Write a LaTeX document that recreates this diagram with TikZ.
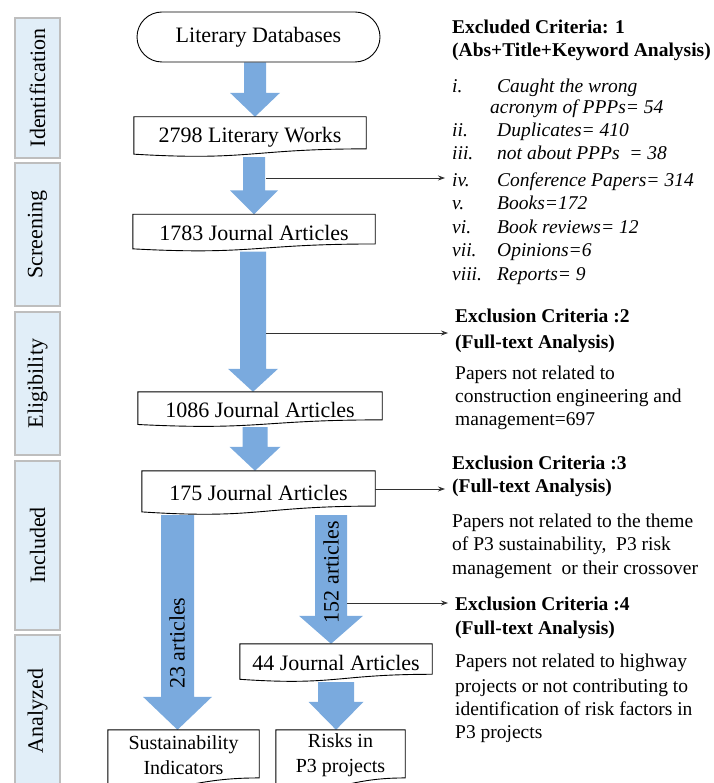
\documentclass[tikz,border=0pt]{standalone}
\usepackage{fontspec}
\setmainfont{Liberation Serif}
\usetikzlibrary{shapes.misc,calc,arrows.meta}
\pgfdeclarelayer{bg}
\pgfdeclarelayer{boxes}
\pgfsetlayers{bg,boxes,main}
\definecolor{arrowblue}{RGB}{122,170,222}
\definecolor{sidefill}{RGB}{225,238,248}
\definecolor{sidedraw}{RGB}{190,190,190}
\definecolor{linegray}{RGB}{50,50,50}
% document shape: #1 node name, #2 total height
\newcommand\docshape[2]{%
  \draw[docline] let \p1=(#1.north west), \p2=(#1.north east) in
    (\p1) -- (\p2) -- ({\x2},{\y1-0.802*#2pt})
    .. controls ({(\x1+\x2)/2},{\y1-0.802*#2pt}) and ({(\x1+\x2)/2},{\y1-1.1075*#2pt}) ..
    ({\x1},{\y1-0.934*#2pt}) -- cycle;}
% block arrow: #1 x coordinate, #2 from node, #3 to node, #4 shaft half, #5 head half, #6 head length
\newcommand\blockarrow[6]{%
  \fill[arrowblue] let \p1=(#1 |- #2.south), \p2=(#1 |- #3.north) in
    ({\x1-#4pt},\y1) -- ({\x1+#4pt},\y1) -- ({\x1+#4pt},{\y2+#6pt}) -- ({\x1+#5pt},{\y2+#6pt})
    -- (\x1,\y2) -- ({\x1-#5pt},{\y2+#6pt}) -- ({\x1-#4pt},{\y2+#6pt}) -- cycle;}
\begin{document}
\begin{tikzpicture}[x=1pt,y=-1pt,
  docline/.style={draw=black,fill=white,line width=0.9pt},
  mainbox/.style={draw=none,inner sep=0pt,align=center,font=\fontsize{22}{26}\selectfont},
  smallbox/.style={draw=none,inner sep=0pt,align=center,font=\fontsize{20}{25}\selectfont},
  side/.style={draw=sidedraw,fill=sidefill,line width=1.2pt,inner sep=0pt,rotate=90,font=\fontsize{22}{26}\selectfont},
  alabel/.style={inner sep=0pt,rotate=90,font=\fontsize{22}{26}\selectfont},
  rtxt/.style={anchor=base west,inner sep=0pt,font=\fontsize{19.5}{23}\selectfont},
  rbold/.style={rtxt,font=\fontsize{19.5}{23}\selectfont\bfseries},
  itm/.style={rtxt,font=\fontsize{19.5}{23}\selectfont\itshape},
  thinarr/.style={draw=linegray,line width=0.8pt,-{Stealth[length=7pt,width=5pt]},shorten >=7pt}]
\useasboundingbox (0,0) rectangle (713,783);

% side phase boxes
\node[side,minimum width=140pt,minimum height=45pt] (sid) at (37.5,88) {Identification};
\node[side,minimum width=143pt,minimum height=45pt] (ssc) at (37.5,234.5) {Screening};
\node[side,minimum width=143pt,minimum height=45pt] (sel) at (37.5,383.5) {Eligibility};
\node[side,minimum width=169pt,minimum height=45pt] (sin) at (37.5,545.5) {Included};
\node[side,minimum width=152pt,minimum height=45pt] (san) at (37.5,711) {Analyzed};

% main flow nodes
\node[draw,rounded rectangle,line width=0.9pt,inner sep=0pt,minimum width=243pt,minimum height=50pt,font=\fontsize{22}{26}\selectfont] (db) at (258.5,37) {Literary Databases};
\node[mainbox,minimum width=232pt,minimum height=40pt] (w2798) at (250,137) {2798 Literary Works};
\node[mainbox,minimum width=242pt,minimum height=37pt] (j1783) at (254,233) {1783 Journal Articles};
\node[mainbox,minimum width=244pt,minimum height=35pt] (j1086) at (260,409.5) {1086 Journal Articles};
\node[mainbox,minimum width=233pt,minimum height=44pt] (j175) at (258.5,493) {175 Journal Articles};
\node[mainbox,minimum width=192pt,minimum height=38pt] (j44) at (336,663) {44 Journal Articles};
\node[smallbox,minimum width=151pt,minimum height=50pt] (sust) at (183.5,755) {Sustainability\\Indicators};
\node[smallbox,minimum width=129pt,minimum height=50pt] (risks) at (340.5,755) {Risks in\\P3 projects};

% arrow columns
\coordinate (ax1) at (255,0);
\coordinate (ax2) at (254,0);
\coordinate (ax3) at (253,0);
\coordinate (ax4) at (255,0);
\coordinate (ax5) at (177.5,0);
\coordinate (ax6) at (331,0);
\coordinate (ax7) at (336,0);

\begin{pgfonlayer}{bg}
\blockarrow{ax1}{db}{w2798}{11}{25}{24}
\blockarrow{ax2}{w2798}{j1783}{11}{24}{24}
\blockarrow{ax3}{j1783}{j1086}{13}{25}{23}
\blockarrow{ax4}{j1086}{j175}{12.5}{25.5}{24}
\blockarrow{ax5}{j175}{sust}{16.5}{34.5}{33}
\blockarrow{ax6}{j175}{j44}{16}{32}{28}
\blockarrow{ax7}{j44}{risks}{18}{27.5}{28}
\end{pgfonlayer}

\begin{pgfonlayer}{boxes}
\docshape{w2798}{40}
\docshape{j1783}{37}
\docshape{j1086}{35}
\docshape{j175}{44}
\docshape{j44}{38}
\docshape{sust}{60}
\docshape{risks}{60}
\end{pgfonlayer}

% labels on the arrows
\node[alabel] (l23) at (177,643) {23 articles};
\node[alabel] (l152) at (331,572) {152 articles};

% right column: criteria 1
\node[rbold] (c1a) at (452,34) {Excluded Criteria: 1};
\node[rbold] (c1b) at (452,57) {(Abs+Title+Keyword Analysis)};
\node[itm] (i1) at (452,93) {i.};
\node[itm] (i2) at (452,137) {ii.};
\node[itm] (i3) at (452,160) {iii.};
\node[itm] (i4) at (452,187) {iv.};
\node[itm] (i5) at (452,210) {v.};
\node[itm] (i6) at (452,234) {vi.};
\node[itm] (i7) at (452,257) {vii.};
\node[itm] (i8) at (452,280) {viii.};
\node[itm] (x1) at (497,93) {Caught the wrong};
\node[itm] (x1b) at (490,114) {acronym of PPPs= 54};
\node[itm] (x2) at (497,137) {Duplicates= 410};
\node[itm] (x3) at (497,160) {not about PPPs \ = 38};
\node[itm] (x4) at (497,187) {Conference Papers= 314};
\node[itm] (x5) at (497,210) {Books=172};
\node[itm] (x6) at (497,234) {Book reviews= 12};
\node[itm] (x7) at (497,257) {Opinions=6};
\node[itm] (x8) at (497,280) {Reports= 9};

% criteria 2
\node[rbold] (c2a) at (455,322) {Exclusion Criteria :2};
\node[rbold] (c2b) at (455,348) {(Full-text Analysis)};
\node[rtxt] (p2a) at (455,379) {Papers not related to};
\node[rtxt] (p2b) at (455,402) {construction engineering and};
\node[rtxt] (p2c) at (455,425) {management=697};

% criteria 3
\node[rbold] (c3a) at (452,469) {Exclusion Criteria :3};
\node[rbold] (c3b) at (452,492) {(Full-text Analysis)};
\node[rtxt] (p3a) at (452,527) {Papers not related to the theme};
\node[rtxt] (p3b) at (452,550) {of P3 sustainability, \ P3 risk};
\node[rtxt] (p3c) at (452,574) {management \ or their crossover};

% criteria 4
\node[rbold] (c4a) at (455,610) {Exclusion Criteria :4};
\node[rbold] (c4b) at (455,634) {(Full-text Analysis)};
\node[rtxt] (p4a) at (455,667) {Papers not related to highway};
\node[rtxt] (p4b) at (455,692) {projects or not contributing to};
\node[rtxt] (p4c) at (455,715) {identification of risk factors in};
\node[rtxt] (p4d) at (455,738) {P3 projects};

% thin exclusion connectors
\coordinate (t1) at (266,178);
\coordinate (t2) at (266,333);
\coordinate (t3) at (375,489);
\coordinate (t4) at (347,603);
\draw[thinarr] (t1) -- (t1 -| i4.west);
\draw[thinarr] (t2) -- (t2 -| c2a.west);
\draw[thinarr] (t3) -- (t3 -| c3b.west);
\draw[thinarr] (t4) -- (t4 -| c4a.west);
\end{tikzpicture}
\end{document}
